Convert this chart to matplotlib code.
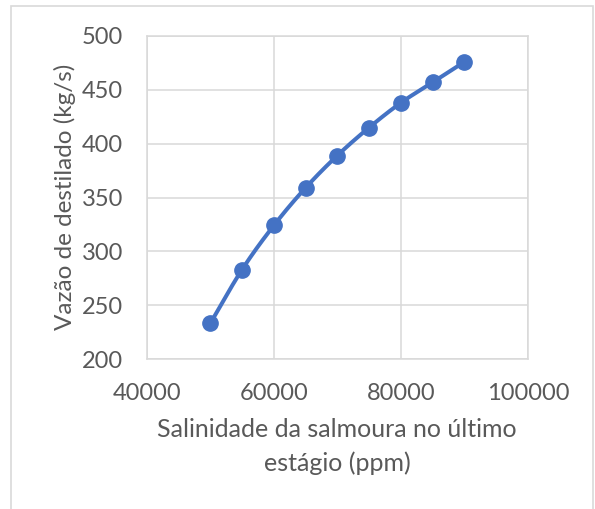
import numpy as np
import matplotlib.pyplot as plt
from matplotlib.patches import Rectangle

plt.rcParams['font.family'] = ['Lato', 'DejaVu Sans']

salinidade = [50000, 55000, 60000, 65000, 70000, 75000, 80000, 85000, 90000]
vazao = [233, 283, 324, 359, 389, 415, 438, 457, 476]
x_ticks = [40000, 60000, 80000, 100000]
y_ticks = [200, 250, 300, 350, 400, 450, 500]

kColorLine = '#4472C4'
kColorGrid = '#D9D9D9'
kColorText = '#595959'
W, H = 595, 509


def catmull_rom(xs, ys, n=20):
  # smooth line drawing like Excel's smoothed scatter
  px = np.array(xs, dtype=float)
  py = np.array(ys, dtype=float)
  px = np.concatenate([[2*px[0]-px[1]], px, [2*px[-1]-px[-2]]])
  py = np.concatenate([[2*py[0]-py[1]], py, [2*py[-1]-py[-2]]])
  outx, outy = [], []
  t = np.linspace(0, 1, n, endpoint=False)
  for i in range(1, len(px)-2):
    for arr, out in ((px, outx), (py, outy)):
      p0, p1, p2, p3 = arr[i-1], arr[i], arr[i+1], arr[i+2]
      out.extend(0.5*((2*p1) + (-p0+p2)*t + (2*p0-5*p1+4*p2-p3)*t**2 + (-p0+3*p1-3*p2+p3)*t**3))
  outx.append(px[-2])
  outy.append(py[-2])
  return outx, outy


fig = plt.figure(figsize=(W/100, H/100), dpi=100)
fig.patches.append(Rectangle((11/W, -0.1), (593-11)/W, 1.1 - 6/H, transform=fig.transFigure,
                             fill=False, edgecolor=kColorGrid, linewidth=1.2))

ax = fig.add_axes([146.7/W, 1-359/H, (528-146.7)/W, (359-36)/H])
sx, sy = catmull_rom(salinidade, vazao)
ax.plot(sx, sy, color=kColorLine, lw=2.9, solid_capstyle='round', zorder=3)
ax.plot(salinidade, vazao, 'o', color=kColorLine, markersize=11, zorder=4)

ax.set_xlim(40000, 100000)
ax.set_ylim(200, 500)
ax.set_xticks(x_ticks)
ax.set_yticks(y_ticks)
ax.grid(True, color=kColorGrid, lw=1.1)
ax.set_axisbelow(True)
for s in ax.spines.values():
  s.set_color(kColorGrid)
  s.set_linewidth(1.1)
ax.tick_params(length=0, labelsize=17, colors=kColorText, pad=17)
ax.tick_params(axis='y', pad=17)

fig.text(64.5/W, 1-197/H, 'Vazão de destilado (kg/s)', rotation=90, ha='center', va='center',
         fontsize=17.5, color=kColorText)
fig.text(337/W, 1-437/H, 'Salinidade da salmoura no último', ha='center', va='baseline',
         fontsize=18, color=kColorText)
fig.text(337/W, 1-471/H, 'estágio (ppm)', ha='center', va='baseline',
         fontsize=18, color=kColorText)

fig.savefig('out.png', dpi=100)
